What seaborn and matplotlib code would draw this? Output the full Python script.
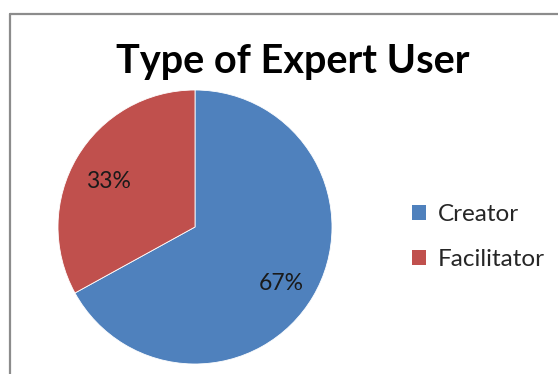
import matplotlib
matplotlib.use("Agg")
import matplotlib.pyplot as plt
from matplotlib.lines import Line2D
from matplotlib.patches import Patch
import seaborn as sns

categories = ["Creator", "Facilitator"]
shares = [67, 33]
colors = ["#4F81BD", "#C0504D"]
title = "Type of Expert User"

sns.set_theme(style="white")
plt.rcParams["font.family"] = ["Lato", "DejaVu Sans"]

W, H = 558, 374
fig = plt.figure(figsize=(W / 100, H / 100), dpi=100)
fig.patch.set_facecolor("white")

# chart area border (left and top edges visible)
fig.add_artist(Line2D([9.5 / W, 9.5 / W], [0, 1 - 14 / H], color="#8c8c8c", lw=1.6,
                      transform=fig.transFigure))
fig.add_artist(Line2D([9.5 / W, 1], [1 - 14 / H, 1 - 14 / H], color="#8c8c8c", lw=1.6,
                      transform=fig.transFigure))

cx, cy, r = 195, 227, 137
ax = fig.add_axes([(cx - r) / W, 1 - (cy + r) / H, 2 * r / W, 2 * r / H])
wedges, texts, autotexts = ax.pie(
    shares, colors=colors, startangle=90, counterclock=False,
    autopct="%1.0f%%", pctdistance=0.73,
    wedgeprops=dict(linewidth=0.6, edgecolor="white"),
    textprops=dict(fontsize=16.5, color="#1a1a1a"),
)
# nudge percentage labels slightly downward
for t in autotexts:
    x, y = t.get_position()
    t.set_position((x, y - 0.04))
ax.set_xlim(-1, 1)
ax.set_ylim(-1, 1)
ax.set_aspect("equal")
ax.axis("off")

fig.text(293 / W, 1 - 62 / H, title, ha="center", va="center",
         fontsize=28.5, fontweight="bold", color="black")

handles = [Patch(facecolor=c, edgecolor="none") for c in colors]
fig.legend(handles, categories, loc="center left", bbox_to_anchor=(390 / W, 1 - 237 / H),
           frameon=False, fontsize=17.5, handlelength=0.6, handleheight=0.6,
           handletextpad=0.45, labelspacing=1.0)

fig.savefig("out.png", dpi=100)
